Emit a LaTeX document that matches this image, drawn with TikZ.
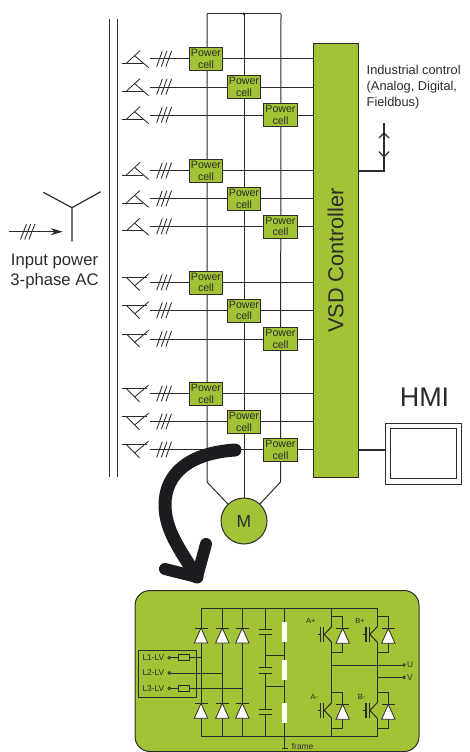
\documentclass[tikz,border=0pt]{standalone}
\usepackage{fontspec}
\setmainfont{Liberation Sans}
\usepackage{tikz}
\usetikzlibrary{positioning,arrows.meta,calc}
\definecolor{leaf}{HTML}{A3C337}
\definecolor{ink}{HTML}{2B2B2B}
\definecolor{swoop}{HTML}{1C1B20}
\tikzset{
  wire/.style={draw=ink,line width=1pt},
  thinw/.style={draw=ink,line width=0.85pt},
  pcell/.style={draw=ink,fill=leaf,line width=1pt,minimum width=33.5pt,minimum height=23pt,
    inner sep=0pt,align=center,text=ink,font=\fontsize{10.6}{11.6}\selectfont},
  diode/.style={draw=ink,fill=white,line width=0.8pt},
  lbl/.style={inner sep=0pt,text=ink},
  small/.style={lbl,font=\fontsize{8.4}{10}\selectfont},
  tiny/.style={lbl,font=\fontsize{7.5}{8}\selectfont},
  term/.style={circle,draw=ink,line width=0.8pt,inner sep=0pt,minimum size=2.8pt},
}
\begin{document}
\begin{tikzpicture}[x=1pt,y=-1pt]
  \useasboundingbox (0,0) rectangle (470,752);
  % bus bars
  \draw[wire,line width=1.5pt] (109.5,19) -- (109.5,477);
  \draw[wire,line width=1.5pt] (117.5,19) -- (117.5,477);
  % controller
  \node[draw=ink,fill=leaf,line width=1pt,minimum width=45pt,minimum height=434pt,inner sep=0pt]
    (vsd) at (335.5,260.5) {};
  \node[lbl,rotate=90,font=\fontsize{21.7}{24}\selectfont] (vsdtxt) at (vsd.center) {VSD Controller};
  % rows
  \foreach \i/\y in {1/59,2/87,3/115,4/170.7,5/198.7,6/226.5,7/282.5,8/310.5,9/339,10/393.7,11/421.7,12/449.7}{
    \coordinate (r\i) at (150,\y);
    \draw[wire] (r\i) -- (r\i -| vsd.west);
    \foreach \d in {0,4.6,9.2}{
      \draw[thinw] (156.7+\d,\y+7.7) -- (162.3+\d,\y-8);}
  }
  % delta side
  \foreach \y in {59,87,115,170.7,198.7,226.5}{
    \draw[thinw] (121.7,\y+4.3) -- (143,\y+4.3);
    \draw[thinw] (126.3,\y+4.3) -- (140,\y-8.3);
    \draw[thinw] (135,\y-3) -- (148.7,\y+8.7);}
  % star side
  \foreach \y in {282.5,310.5,339,393.7,421.7,449.7}{
    \draw[thinw] (121.7,\y-5) -- (147,\y-5);
    \draw[thinw] (126.5,\y-5) -- (139.5,\y+8);
    \draw[thinw] (135,\y+3) -- (148.7,\y-8.7);}
  % motor and columns
  \node[circle,draw=ink,fill=leaf,line width=1pt,minimum size=46pt,inner sep=0pt,
    font=\fontsize{17.5}{18}\selectfont,text=ink] (mot) at (244,521) {M};
  \coordinate (t1) at (207,14);
  \coordinate (t2) at (244,14);
  \coordinate (t3) at (281,14);
  \coordinate (b1) at (207,482);
  \coordinate (b3) at (280.5,482);
  \draw[wire] (t1) -- (t3);
  \fill[ink] (t2) circle (1.7pt);
  \draw[wire] (t1) -- (b1) -- (mot);
  \draw[wire] (t2) -- (mot);
  \draw[wire] (t3) -- (b3) -- (mot);
  % power cells
  \foreach \i/\x/\y in {1/206/59,2/244/87,3/280.5/115,4/206/170.7,5/244/198.7,6/280.5/226.5,
    7/206/282.5,8/244/310.5,9/280.5/339,10/206/393.7,11/244/421.7,12/280.5/449.7}{
    \node[pcell] (c\i) at (\x,\y) {Power\\cell};}
  % industrial control
  \node[lbl,anchor=north west,align=left,font=\fontsize{12.8}{15.7}\selectfont] (ctrl) at (366.5,65.5)
    {Industrial control\\(Analog, Digital,\\Fieldbus)};
  \coordinate (cc) at (384,171);
  \coordinate (ct) at (384,123);
  \draw[wire,line width=1.3pt] (cc -| vsd.east) -- (cc) -- (ct);
  \draw[wire,line width=1.3pt] (379,138) -- (384,133) -- (389,138);
  \draw[wire,line width=1.3pt] (379,151.7) -- (384,156.7) -- (389,151.7);
  % hmi
  \node[lbl,font=\fontsize{27}{30}\selectfont] (hmitxt) at (424.5,397.5) {HMI};
  \node[draw=ink,fill=white,line width=1pt,minimum width=76pt,minimum height=60.7pt,inner sep=0pt]
    (hmi) at (423.7,453.7) {};
  \node[draw=ink,fill=white,line width=1pt,minimum width=66.4pt,minimum height=49.7pt,inner sep=0pt]
    (scr) at (423.5,453.8) {};
  \draw[wire,line width=1.3pt] (vsd.east |- 0,450) -- (hmi.west |- 0,450);
  % input power
  \coordinate (yc) at (72,207.7);
  \coordinate (y1) at (43.3,192.3);
  \coordinate (y2) at (100.7,191.7);
  \coordinate (y3) at (72,241.3);
  \draw[wire,line width=1.2pt] (yc) -- (y1) (yc) -- (y2) (yc) -- (y3);
  \coordinate (ia) at (9.3,231.7);
  \coordinate (ib) at (62.7,231.7);
  \draw[wire,-{Stealth[length=12pt,width=7pt]}] (ia) -- (ib);
  \foreach \d in {0,4.2,8.4}{
    \draw[thinw] (20.5+\d,239.5) -- (26.5+\d,224);}
  \node[lbl,font=\fontsize{16.7}{20}\selectfont,align=center] (intxt) at (54.5,271)
    {Input power\\3-phase AC};
  % big arrow
  \coordinate (a0) at (235,450);
  \coordinate (a1) at (197,577);
  \draw[line width=13pt,draw=swoop,line cap=round,line join=round]
    (a0) .. controls (190,453) and (165,473) .. (165,505) .. controls (165,530) and (180,550) .. (a1);
  \draw[line width=12pt,draw=swoop,line cap=round,line join=round]
    (165,569) -- (a1) -- (206,544);
  % detail panel
  \node[draw=ink,fill=leaf,line width=1pt,rounded corners=15pt,minimum width=284pt,minimum height=161pt,
    inner sep=0pt] (panel) at (277,671) {};
  \coordinate (p1) at (201,608.3);
  \coordinate (p2) at (377.3,608.3);
  \coordinate (q1) at (201,736.7);
  \coordinate (q2) at (377.3,736.7);
  \draw[wire] (p1) -- (p2) (q1) -- (q2);
  % rectifier
  \foreach \x in {201,222.3,242.3}{
    \draw[wire] (\x,608.3) -- (\x,736.7);
    \foreach \y in {628,703.3}{
      \draw[wire] (\x-6.5,\y) -- (\x+6.5,\y);
      \draw[diode] (\x,\y) -- (\x-6.7,\y+15) -- (\x+6.7,\y+15) -- cycle;}
  }
  % capacitors
  \draw[wire] (265.3,608.3) -- (265.3,629) (265.3,634.3) -- (265.3,667.7)
    (265.3,673.3) -- (265.3,709.3) (265.3,714.3) -- (265.3,736.7);
  \foreach \y in {629,634.3,667.7,673.3,709.3,714.3}{
    \draw[wire] (258.8,\y) -- (271.8,\y);}
  \coordinate (frm) at (284.3,748);
  \draw[wire] (284.3,608.3) -- (frm);
  \draw[wire] (281.5,748) -- (287.5,748);
  \draw[wire] (265.3,655) -- (284.3,655) (265.3,686.7) -- (284.3,686.7);
  \foreach \y in {621.7,660,703}{
    \fill[white] (282.2,\y) rectangle (287,\y+20);}
  \node[lbl,font=\fontsize{8.4}{9}\selectfont,anchor=west] (frmtxt) at (291.7,746.5) {frame};
  % input block
  \node[draw=ink,line width=1pt,minimum width=58.4pt,minimum height=47.4pt,inner sep=0pt] (inb) at (167.5,674) {};
  \foreach \i/\y/\x in {1/657.7/201,2/673/222.3,3/688.3/242.3}{
    \node[small,anchor=west] (l\i) at (142.3,\y) {L\i-LV};
    \node[term] (s\i) at (169.3,\y) {};
    \draw[wire] (s\i) -- (\x,\y);}
  \foreach \y in {657.7,688.3}{
    \draw[draw=ink,line width=0.9pt,fill=leaf] (178,\y-3.2) rectangle (189.3,\y+3.2);}
  % bridge
  \foreach \c/\n in {331.7/A,377.3/B}{
    \foreach \o/\s in {0/+,76/-}{
      \draw[wire] (\c,626.7+\o) -- (\c-7.5,634.3+\o) -- (\c,642.3+\o);
      \draw[wire,line width=1.2pt] (\c-8,626.7+\o) -- (\c-8,642.3+\o);
      \draw[wire,line width=1.2pt] (\c-11.3,626.7+\o) -- (\c-11.3,642.3+\o);
      \draw[wire] (\c-14,634.3+\o) -- (\c-11.3,634.3+\o);
      \draw[wire] (\c,616.7+\o) -- (\c+11,616.7+\o) -- (\c+11,652.7+\o) -- (\c,652.7+\o);
      \draw[wire] (\c+4.5,628.3+\o) -- (\c+17.5,628.3+\o);
      \draw[diode] (\c+11,628.3+\o) -- (\c+4.3,643.3+\o) -- (\c+17.7,643.3+\o) -- cycle;}
    \draw[wire] (\c,608.3) -- (\c,626.7) (\c,642.3) -- (\c,702.7) (\c,718.3) -- (\c,736.7);
  }
  \node[tiny] (ap) at (310.7,621) {A+};
  \node[tiny] (bp) at (360,621) {B+};
  \node[tiny] (am) at (314.3,697.3) {A-};
  \node[tiny] (bm) at (361.7,697.3) {B-};
  % outputs
  \node[term] (tu) at (404,665) {};
  \node[term] (tv) at (404,677.3) {};
  \draw[wire] (331.7,665) -- (tu);
  \draw[wire] (377.3,677.3) -- (tv);
  \node[small,anchor=west] (tuu) at (407,665) {U};
  \node[small,anchor=west] (tvv) at (407,677.3) {V};
\end{tikzpicture}
\end{document}
